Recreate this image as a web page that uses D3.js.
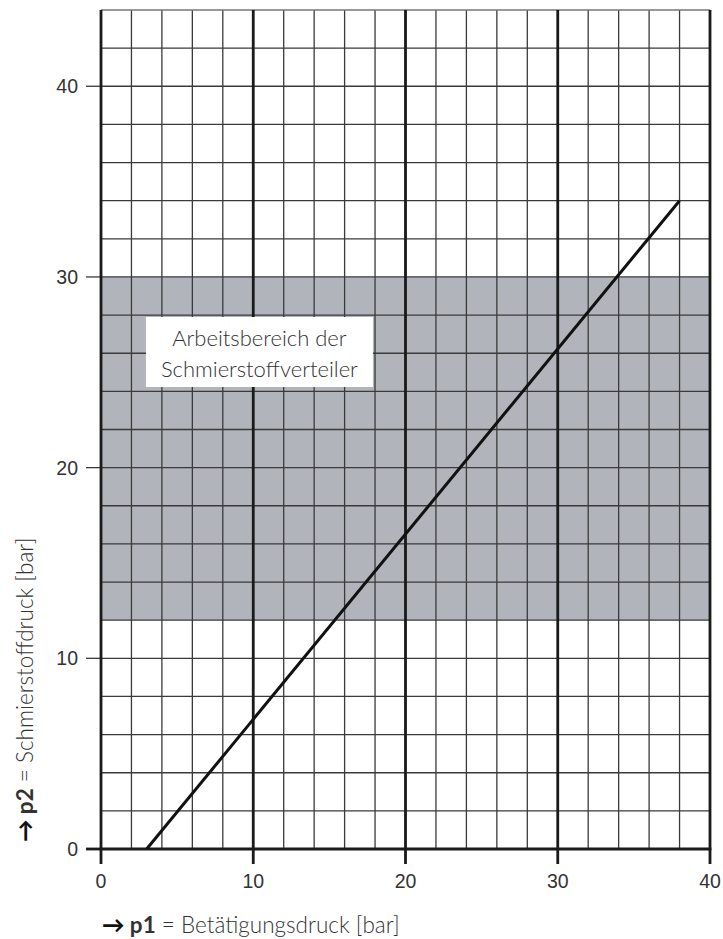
<!DOCTYPE html>
<html>
<head>
<meta charset="utf-8">
<script src="https://cdn.jsdelivr.net/npm/d3@7"></script>
<style>
  body { margin: 0; background: #fff; }
  svg { display: block; }
</style>
</head>
<body>
<div id="chart"></div>
<script>
// axis ticks and grid
const xTicks = [0, 10, 20, 30, 40];
const yTicks = [0, 10, 20, 30, 40];
const xGrid = d3.range(0, 41, 2);
const yGrid = d3.range(0, 45, 2);
const xMajor = [0, 10, 20, 30, 40];
// working range band (p2)
const band = [12, 30];
// characteristic line p1 -> p2
const lineP1 = [3, 38];
const lineP2 = [0, 34];
const labelLines = ["Arbeitsbereich der", "Schmierstoffverteiler"];

const W = 723, H = 939;
const margin = { top: 10, left: 101, right: 13, bottom: 90 };
const font = "Lato, 'Open Sans', sans-serif";

const svg = d3.select("#chart").append("svg")
  .attr("width", W).attr("height", H);

const x = d3.scaleLinear().domain([0, 40]).range([margin.left, W - margin.right]);
const y = d3.scaleLinear().domain([0, 44]).range([H - margin.bottom, margin.top]);

// band
svg.append("rect")
  .attr("x", x(0)).attr("width", x(40) - x(0))
  .attr("y", y(band[1])).attr("height", y(band[0]) - y(band[1]))
  .attr("fill", "#b1b5bb");

// thin grid
svg.append("g").selectAll("line").data(xGrid).join("line")
  .attr("x1", d => x(d)).attr("x2", d => x(d))
  .attr("y1", y(44)).attr("y2", y(0))
  .attr("stroke", "#3a3a3a").attr("stroke-width", 1.3);

svg.append("g").selectAll("line").data(yGrid.filter(d => d > 0 && d < 44)).join("line")
  .attr("x1", x(0)).attr("x2", x(40))
  .attr("y1", d => y(d)).attr("y2", d => y(d))
  .attr("stroke", "#3a3a3a").attr("stroke-width", 1.3);

// top border
svg.append("line")
  .attr("x1", x(0)).attr("x2", x(40))
  .attr("y1", y(44)).attr("y2", y(44))
  .attr("stroke", "#777").attr("stroke-width", 1.3);

// y ticks
svg.append("g").selectAll("line").data(yTicks).join("line")
  .attr("x1", x(0) - 15).attr("x2", x(0))
  .attr("y1", d => y(d)).attr("y2", d => y(d))
  .attr("stroke", d => d === 0 ? "#1a1a1a" : "#3a3a3a")
  .attr("stroke-width", d => d === 0 ? 2.8 : 1.3);

// thick verticals + x ticks
svg.append("g").selectAll("line").data(xMajor).join("line")
  .attr("x1", d => x(d)).attr("x2", d => x(d))
  .attr("y1", y(44)).attr("y2", y(0) + 15)
  .attr("stroke", "#1a1a1a").attr("stroke-width", 2.8);

// bottom baseline
svg.append("line")
  .attr("x1", x(0) - 1.4).attr("x2", x(40) + 1.4)
  .attr("y1", y(0)).attr("y2", y(0))
  .attr("stroke", "#1a1a1a").attr("stroke-width", 2.8);

// characteristic line
svg.append("path")
  .datum(d3.zip(lineP1, lineP2))
  .attr("d", d3.line().x(d => x(d[0])).y(d => y(d[1])))
  .attr("fill", "none")
  .attr("stroke", "#111").attr("stroke-width", 3);

// tick labels
svg.append("g").selectAll("text").data(yTicks).join("text")
  .attr("x", x(0) - 23).attr("y", d => y(d) + 7)
  .attr("text-anchor", "end")
  .attr("font-family", "Liberation Sans, Arial, sans-serif")
  .attr("font-size", 19.5).attr("fill", "#333")
  .text(d => d);

svg.append("g").selectAll("text").data(xTicks).join("text")
  .attr("x", d => x(d)).attr("y", y(0) + 39)
  .attr("text-anchor", "middle")
  .attr("font-family", "Liberation Sans, Arial, sans-serif")
  .attr("font-size", 19.5).attr("fill", "#333")
  .text(d => d);

// label box
const bx = x(2.95), bw = 227, by = 317, bh = 70;
svg.append("rect")
  .attr("x", bx).attr("y", by).attr("width", bw).attr("height", bh)
  .attr("fill", "#fff");
svg.append("g").selectAll("text").data(labelLines).join("text")
  .attr("x", bx + bw / 2).attr("y", (d, i) => 346 + i * 31)
  .attr("text-anchor", "middle")
  .attr("font-family", font).attr("font-weight", 300)
  .attr("font-size", 22).attr("fill", "#333")
  .text(d => d);

// axis titles
const xt = svg.append("text")
  .attr("x", 102).attr("y", 933)
  .attr("font-family", font)
  .attr("font-size", 22.5).attr("fill", "#333");
xt.append("tspan").attr("font-weight", 900).attr("fill", "#111").text("→ ");
xt.append("tspan").attr("font-weight", "bold").text("p1");
xt.append("tspan").attr("font-weight", 300).text(" = Betätigungsdruck [bar]");

const yt = svg.append("text")
  .attr("transform", "translate(33,842) rotate(-90)")
  .attr("font-family", font)
  .attr("font-size", 22.5).attr("fill", "#333");
yt.append("tspan").attr("font-weight", 900).attr("fill", "#111").text("→ ");
yt.append("tspan").attr("font-weight", "bold").text("p2");
yt.append("tspan").attr("font-weight", 300).text(" = Schmierstoffdruck [bar]");
</script>
</body>
</html>
